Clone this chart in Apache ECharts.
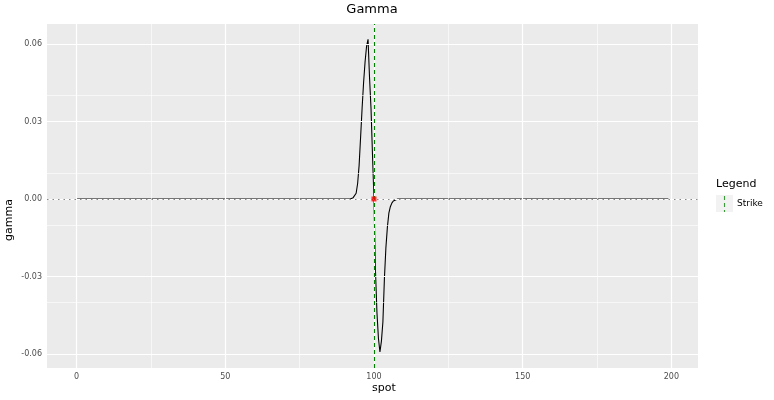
<!DOCTYPE html>
<html>
<head>
<meta charset="utf-8">
<script src="https://cdn.jsdelivr.net/npm/echarts@6/dist/echarts.min.js"></script>
<style>
  html, body { margin: 0; padding: 0; background: #fff; }
  #chart { width: 774px; height: 400px; }
</style>
</head>
<body>
<div id="chart"></div>
<script>
// gamma curve (flat zero outside 92..108)
const spotValues = [0, 50, 91, 92, 93, 93.5, 94, 94.5, 95, 95.5, 96, 96.5, 97, 97.5, 98, 98.5, 99, 99.5, 100,
  100.5, 101, 101.5, 102, 102.5, 103, 103.5, 104, 104.5, 105, 105.5, 106, 106.5, 107, 108, 109, 150, 199]
const gammaValues = [0, 0, 0, 0, 0.0005, 0.001, 0.0022, 0.006, 0.013, 0.024, 0.035, 0.045, 0.053, 0.059, 0.0618, 0.047, 0.035, 0.017, 0,
  -0.028, -0.044, -0.054, -0.0592, -0.055, -0.0475, -0.031, -0.019, -0.011, -0.0055, -0.003, -0.0016, -0.0008, -0.0003, 0, 0, 0, 0]
const strike = 100
const xTicks = [0, 50, 100, 150, 200]
const xMinor = [25, 75, 125, 175]
const yTicks = [-0.06, -0.03, 0, 0.03, 0.06]
const yMinor = [-0.045, -0.015, 0.015, 0.045]

const xMin = -9.95
const xMax = 208.95
const yMin = -0.0654
const yMax = 0.0677

let lineData = spotValues.map((s, i) => [s, gammaValues[i]])

function gridLines (vals, axis, width) {
  return vals.map(v => ({ [axis]: v, lineStyle: { color: '#fff', width: width, type: 'solid' } }))
}

let chart = echarts.init(document.getElementById('chart'))
let option = {
  animation: false,
  title: {
    text: 'Gamma',
    left: 372,
    top: 3,
    padding: 0,
    textAlign: 'center',
    textStyle: { fontFamily: 'DejaVu Sans', fontSize: 13, fontWeight: 'normal', color: '#000' }
  },
  grid: {
    left: 47,
    right: 76,
    top: 24,
    bottom: 32,
    show: true,
    backgroundColor: '#EBEBEB',
    borderWidth: 0
  },
  // legend drawn by hand, ggplot style
  graphic: [
    { type: 'text', left: 716, top: 179, style: { text: 'Legend', font: '11px DejaVu Sans', fill: '#000' } },
    { type: 'rect', left: 716, top: 195, shape: { width: 17, height: 17 }, style: { fill: '#F2F2F2' } },
    {
      type: 'line',
      shape: { x1: 724.5, y1: 196, x2: 724.5, y2: 212 },
      style: { stroke: '#3A9A3A', lineWidth: 1.1, lineDash: [4, 3] }
    },
    { type: 'text', left: 737, top: 199, style: { text: 'Strike', font: '9px DejaVu Sans', fill: '#000' } },
    { type: 'text', left: 372, top: 383, style: { text: 'spot', font: '11px DejaVu Sans', fill: '#000', align: 'center' } },
    { type: 'text', left: 4, top: 199, rotation: Math.PI / 2, style: { text: 'gamma', font: '11px DejaVu Sans', fill: '#000', align: 'center', verticalAlign: 'middle' } }
  ],
  xAxis: {
    type: 'value',
    min: xMin,
    max: xMax,
    axisLine: { show: false },
    splitLine: { show: false },
    axisTick: { show: true, customValues: xTicks, length: 3, lineStyle: { color: '#333' } },
    axisLabel: { customValues: xTicks, fontFamily: 'DejaVu Sans', fontSize: 8, color: '#4D4D4D', margin: 5 }
  },
  yAxis: {
    type: 'value',
    min: yMin,
    max: yMax,
    axisLine: { show: false },
    splitLine: { show: false },
    axisTick: { show: true, customValues: yTicks, length: 3, lineStyle: { color: '#333' } },
    axisLabel: {
      customValues: yTicks,
      fontFamily: 'DejaVu Sans',
      fontSize: 8,
      color: '#4D4D4D',
      margin: 5,
      formatter: v => v.toFixed(2)
    }
  },
  series: [
    {
      // panel grid lines
      name: 'grid',
      type: 'line',
      data: [],
      silent: true,
      markLine: {
        silent: true,
        symbol: 'none',
        label: { show: false },
        animation: false,
        data: [].concat(
          gridLines(xMinor, 'xAxis', 0.6),
          gridLines(yMinor, 'yAxis', 0.6),
          gridLines(xTicks.filter(v => v <= xMax), 'xAxis', 1.2),
          gridLines(yTicks, 'yAxis', 1.2)
        )
      },
      z: 1
    },
    {
      name: 'gamma',
      type: 'line',
      data: lineData,
      showSymbol: false,
      smooth: false,
      lineStyle: { color: '#000', width: 1.1 },
      z: 2
    },
    {
      name: 'zero',
      type: 'line',
      data: [],
      markLine: {
        silent: true,
        symbol: 'none',
        label: { show: false },
        data: [{ yAxis: 0 }],
        lineStyle: { color: '#888', width: 1.2, type: [1.5, 4] }
      },
      z: 3
    },
    {
      name: 'Strike',
      type: 'line',
      data: [],
      markLine: {
        silent: true,
        symbol: 'none',
        label: { show: false },
        data: [{ xAxis: strike }],
        lineStyle: { color: '#008000', width: 1.1, type: [4, 3] }
      },
      z: 4
    },
    {
      name: 'strikePoint',
      type: 'scatter',
      data: [[strike, 0]],
      symbol: 'rect',
      symbolSize: 5,
      itemStyle: { color: '#FF0000' },
      z: 5
    }
  ]
}
chart.setOption(option)
</script>
</body>
</html>
